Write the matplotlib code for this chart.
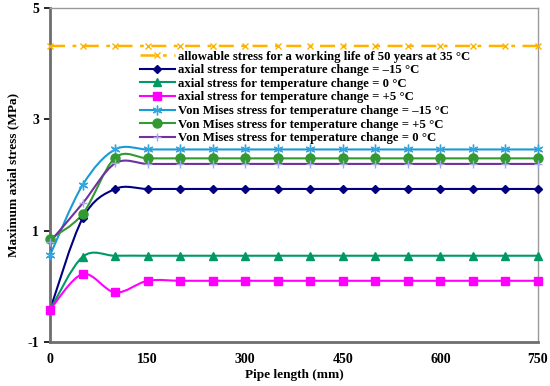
import numpy as np
import matplotlib
matplotlib.use('Agg')
import matplotlib.pyplot as plt
from matplotlib.path import Path
from matplotlib.patches import PathPatch
from matplotlib.lines import Line2D

plt.rcParams['font.family'] = ['Liberation Serif', 'DejaVu Serif']
plt.rcParams['font.weight'] = 'bold'
plt.rcParams['axes.unicode_minus'] = False

# pipe length (mm)
length = [0, 50, 100, 150, 200, 250, 300, 350, 400, 450, 500, 550, 600, 650, 700, 750]

allowable = [4.32] * 16
axial_m15 = [-0.42, 1.22, 1.75, 1.75, 1.75, 1.75, 1.75, 1.75, 1.75, 1.75, 1.75, 1.75, 1.75, 1.75, 1.75, 1.75]
axial_0 = [-0.42, 0.53, 0.55, 0.55, 0.55, 0.55, 0.55, 0.55, 0.55, 0.55, 0.55, 0.55, 0.55, 0.55, 0.55, 0.55]
axial_p5 = [-0.42, 0.22, -0.11, 0.10, 0.10, 0.10, 0.10, 0.10, 0.10, 0.10, 0.10, 0.10, 0.10, 0.10, 0.10, 0.10]
vm_m15 = [0.56, 1.82, 2.46, 2.46, 2.46, 2.46, 2.46, 2.46, 2.46, 2.46, 2.46, 2.46, 2.46, 2.46, 2.46, 2.46]
vm_p5 = [0.85, 1.30, 2.31, 2.30, 2.30, 2.30, 2.30, 2.30, 2.30, 2.30, 2.30, 2.30, 2.30, 2.30, 2.30, 2.30]
vm_0 = [0.80, 1.49, 2.21, 2.20, 2.20, 2.20, 2.20, 2.20, 2.20, 2.20, 2.20, 2.20, 2.20, 2.20, 2.20, 2.20]

labels = [
    'allowable stress for a working life of 50 years at 35 \u00b0C',
    'axial stress for temperature change = \u201315 \u00b0C',
    'axial stress for temperature change = 0 \u00b0C',
    'axial stress for temperature change = +5 \u00b0C',
    'Von Mises stress for temperature change = \u201315 \u00b0C',
    'Von Mises stress for temperature change = +5 \u00b0C',
    'Von Mises stress for temperature change = 0 \u00b0C',
]


def smooth_path(x, y):
    # excel-like smoothed line as cubic bezier segments
    p = np.column_stack([x, y]).astype(float)
    n = len(p)
    verts = [p[0]]
    codes = [Path.MOVETO]
    for i in range(n - 1):
        p0 = p[i - 1] if i > 0 else p[i]
        p3 = p[i + 2] if i + 2 < n else p[i + 1]
        c1 = p[i] + (p[i + 1] - p0) / 6.0
        c2 = p[i + 1] - (p3 - p[i]) / 6.0
        verts += [c1, c2, p[i + 1]]
        codes += [Path.CURVE4] * 3
    return Path(verts, codes)


fig = plt.figure(figsize=(5.5, 3.86), dpi=100)
ax = fig.add_axes([0.091, 0.114, 0.887, 0.865])

series = [
    (allowable, '#FFB300', 'x', '#FFB300', (0, (6, 3, 1.5, 3)), 5),
    (axial_m15, '#000080', 'D', '#000080', '-', 4),
    (axial_0, '#009966', '^', '#009966', '-', 6),
    (axial_p5, '#FF00FF', 's', '#FF00FF', '-', 6),
    (vm_m15, '#1A9BD7', (6, 2, 0), '#33A6DD', '-', 7),
    (vm_p5, '#339933', 'o', '#339933', '-', 6.5),
    (vm_0, '#7030A0', '+', '#A3A8E8', '-', 6),
]

handles = []
for (y, c, m, mc, ls, ms), lab in zip(series, labels):
    patch = PathPatch(smooth_path(length, y), facecolor='none', edgecolor=c,
                      lw=1.5 if ls == '-' else 1.8, linestyle=ls, zorder=2)
    ax.add_patch(patch)
    ax.plot(length, y, linestyle='none', marker=m, color=mc, ms=ms,
            mew=1.0, zorder=3, clip_on=False)
    handles.append(Line2D([], [], color=c, lw=1.5 if ls == '-' else 1.8, linestyle=ls,
                          marker=m, ms=ms, mfc=mc, mec=mc))

ax.set_xlim(0, 750)
ax.set_ylim(-1, 5)
ax.set_xticks([0, 150, 300, 450, 600, 750])
ax.set_yticks([-1, 1, 3, 5])
ax.tick_params(labelsize=10, length=4, width=1.2, direction='out', pad=4)
ax.tick_params(axis='x', length=0, pad=8)
ax.set_xlabel('Pipe length (mm)', fontsize=9.5, fontweight='bold', labelpad=2)
ax.set_ylabel('Maximum axial stress (MPa)', fontsize=9.5, fontweight='bold', labelpad=6)

for s in ['left', 'bottom']:
    ax.spines[s].set_color('#6E6E6E')
    ax.spines[s].set_linewidth(2)
for s in ['top', 'right']:
    ax.spines[s].set_color('#9A9A9A')
    ax.spines[s].set_linewidth(1)

ax.legend(handles, labels, loc='upper left', bbox_to_anchor=(0.184, 0.873),
          frameon=False, handlelength=2.75, handletextpad=0.25,
          labelspacing=0.13, borderaxespad=0, borderpad=0,
          prop={'weight': 'bold', 'size': 9.2})

fig.savefig('out.png', dpi=100)
